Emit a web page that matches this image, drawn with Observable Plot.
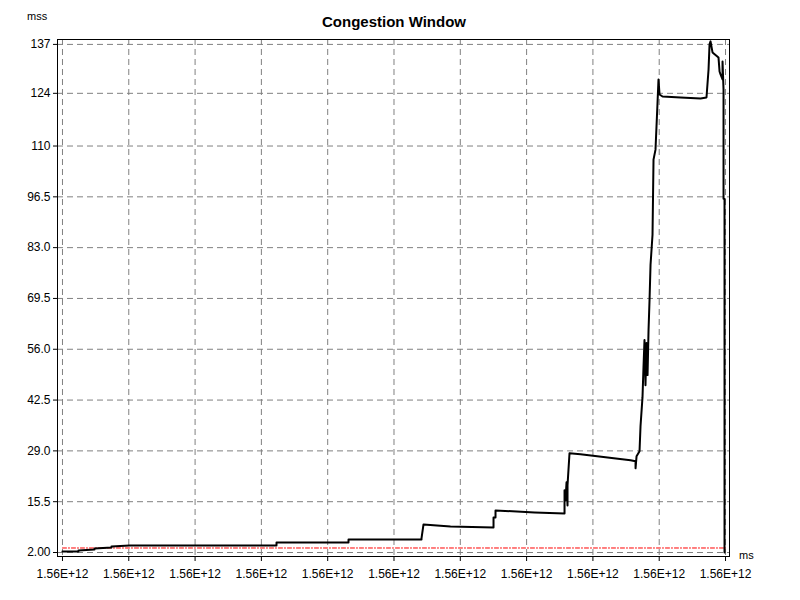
<!DOCTYPE html>
<html><head><meta charset="utf-8">
<script src="https://cdn.jsdelivr.net/npm/d3@7"></script>
<script src="https://cdn.jsdelivr.net/npm/@observablehq/plot@0.6"></script>
<style>
body{margin:0;background:#fff;font-family:"Liberation Sans",Arial,sans-serif;}
#wrap{position:relative;width:800px;height:600px;}
.t{position:absolute;font-size:12px;color:#000;}
</style></head><body>
<div id="wrap">
<div class="t" style="left:0;width:788px;top:13px;text-align:center;font-weight:bold;font-size:15px">Congestion Window</div>
<div class="t" style="left:27px;top:10px;font-size:11px">mss</div>
<div class="t" style="left:739px;top:549px;font-size:11px">ms</div>
</div>
<script>
const xs=[0,0.241,0.241,0.483,0.483,0.739,0.739,1.011,3.228,3.228,4.314,4.314,5.415,5.415,5.445,5.852,6.501,6.501,6.531,6.531,7.119,7.572,7.572,7.587,7.602,7.617,7.617,7.647,7.813,8.567,8.643,8.643,8.658,8.703,8.718,8.748,8.763,8.778,8.793,8.808,8.824,8.839,8.854,8.869,8.899,8.914,8.944,8.974,8.989,9.005,9.050,9.321,9.623,9.713,9.744,9.759,9.774,9.804,9.894,9.910,9.925,9.955,9.955,9.970,9.970,9.985,9.985];
const ys=[2.27,2.27,2.53,2.80,3.07,3.33,3.60,3.86,3.86,4.66,4.66,5.46,5.46,5.73,9.46,8.92,8.66,11.32,11.32,13.18,12.65,12.38,18.51,15.85,20.64,14.51,19.84,28.36,28.09,26.50,26.23,24.37,27.56,28.89,35.55,43.27,51.26,58.45,46.47,57.65,49.13,61.11,69.10,78.42,86.41,106.38,109.04,121.29,127.68,123.69,123.16,122.89,122.63,122.89,130.34,137.0,137.8,134.87,133.54,129.81,129.01,127.68,132.47,125.02,96.0,96.0,2.0];
const threshX=[0,10];
const threshY=[3.2,3.2];
const yTicks=[2,15.5,29,42.5,56,69.5,83,96.5,110,124,137];
const yLabels=["2.00","15.5","29.0","42.5","56.0","69.5","83.0","96.5","110","124","137"];
const xTicks=[0,1,2,3,4,5,6,7,8,9,10];
const xLabel="1.56E+12";
const line=xs.map((x,i)=>({x,y:ys[i]}));
const thr=threshX.map((x,i)=>({x,y:threshY[i]}));
const chart=Plot.plot({
  width:800,height:600,
  marginLeft:57,marginRight:71,marginTop:39,marginBottom:44,
  style:{fontFamily:"Liberation Sans, Arial, sans-serif",fontSize:"12px",color:"#000",background:"transparent"},
  x:{domain:[-0.075,10.06],ticks:xTicks,tickFormat:()=>xLabel,label:null,tickSize:5,tickPadding:8},
  y:{domain:[0.94,138.3],ticks:yTicks,tickFormat:d=>yLabels[yTicks.indexOf(d)],label:null,tickSize:4,tickPadding:3},
  marks:[
    Plot.gridX(xTicks,{stroke:"#808080",strokeOpacity:1,strokeDasharray:"6,4"}),
    Plot.gridY(yTicks,{stroke:"#808080",strokeOpacity:1,strokeDasharray:"6,4"}),
    Plot.line(thr,{x:"x",y:"y",stroke:"red",strokeWidth:1,strokeDasharray:"4,2,1,2"}),
    Plot.line(line,{x:"x",y:"y",stroke:"#000",strokeWidth:2}),
    Plot.frame({stroke:"#000"}),
    Plot.axisX(xTicks,{tickFormat:()=>xLabel,tickSize:5,tickPadding:8}),
    Plot.axisY(yTicks,{tickFormat:d=>yLabels[yTicks.indexOf(d)],tickSize:4,tickPadding:3})
  ]
});
chart.style.position="absolute";chart.style.left="0";chart.style.top="0";
document.getElementById("wrap").prepend(chart);
</script></body></html>
